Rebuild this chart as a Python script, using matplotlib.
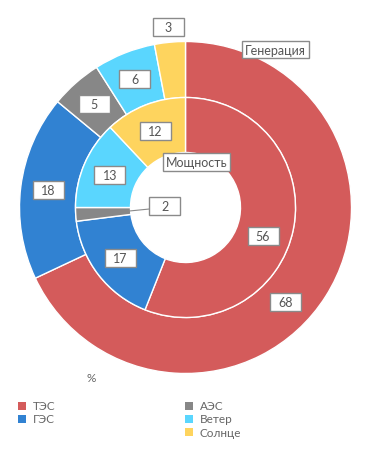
import numpy as np
import matplotlib.pyplot as plt
from matplotlib.patches import Rectangle

plt.rcParams['font.family'] = ['Lato', 'DejaVu Sans']

sources = ['ТЭС', 'ГЭС', 'АЭС', 'Ветер', 'Солнце']
generation = [68, 18, 5, 6, 3]
capacity = [56, 17, 2, 13, 12]
colors = ['#d45b5b', '#3182d2', '#878787', '#5ad6fe', '#fed45e']
ring_names = ['Генерация', 'Мощность']
unit = '%'

W, H = 371, 456
fig = plt.figure(figsize=(W / 100, H / 100), dpi=100)
ax = fig.add_axes([0, 0, 1, 1])

# pixel-like data space, y up
cx, cy = 185.5, H - 208.5
r_out, r_mid, r_in = 166, 110, 55
txt_col = '#555555'
box_ec = '#8a8a8a'

ax.pie(generation, radius=r_out, center=(cx, cy), colors=colors,
       startangle=90, counterclock=False, frame=True,
       wedgeprops=dict(width=r_out - r_mid, edgecolor='white', linewidth=1))
ax.pie(capacity, radius=r_mid, center=(cx, cy), colors=colors,
       startangle=90, counterclock=False, frame=True,
       wedgeprops=dict(width=r_mid - r_in, edgecolor='white', linewidth=1))

ax.set_xlim(0, W)
ax.set_ylim(0, H)
ax.set_aspect('equal')
ax.axis('off')


def box_label(x, y, s, w=31, h=18):
    ax.add_patch(Rectangle((x - w / 2, y - h / 2), w, h, fc='white',
                           ec=box_ec, lw=1, zorder=5))
    ax.text(x, y, s, ha='center', va='center', fontsize=9,
            color=txt_col, zorder=6)


def polar(r, f):
    a = np.deg2rad(90 - 360 * f)
    return cx + r * np.cos(a), cy + r * np.sin(a)


# outer ring labels
start = 0
for i, v in enumerate(generation):
    frac = 0.545 if i == 0 else 0.5
    f = (start + v * frac) / sum(generation)
    r = r_out + 15 if v < 4 else (r_out + r_mid) / 2
    box_label(*polar(r, f), str(v))
    start += v

# inner ring labels
start = 0
for i, v in enumerate(capacity):
    frac = 0.545 if i == 0 else 0.5
    f = (start + v * frac) / sum(capacity)
    if v < 4:
        x0, y0 = polar(r_in + 2, f)
        x1, y1 = x0 + 20, y0 + 2
        ax.plot([x0, x1], [y0, y1], color=box_ec, lw=0.8, zorder=4)
        box_label(x1 + 16, y1 + 3.5, str(v))
    else:
        box_label(*polar((r_mid + r_in) / 2, f), str(v))
    start += v

bb = dict(boxstyle='square,pad=0.22', fc='white', ec=box_ec, lw=1)
ax.text(cx + 59.5, cy + 158, ring_names[0], ha='left', va='center',
        fontsize=9, color=txt_col, bbox=bb, zorder=6)
ax.text(cx - 19.5, cy + 45.5, ring_names[1], ha='left', va='center',
        fontsize=9, color=txt_col, bbox=bb, zorder=6)

ax.text(91, H - 379, unit, ha='center', va='center', fontsize=8.5, color='#666666')

# legend
for i, name in enumerate(sources):
    col = 0 if i < 2 else 1
    row = i if i < 2 else i - 2
    x = 22 + col * 167
    y = H - 406.5 - row * 13.3
    ax.scatter([x], [y], marker='s', s=26, color=colors[i], lw=0)
    ax.text(x + 11, y, name, ha='left', va='center', fontsize=8.5, color='#666666')

plt.savefig('out.png', dpi=100)
